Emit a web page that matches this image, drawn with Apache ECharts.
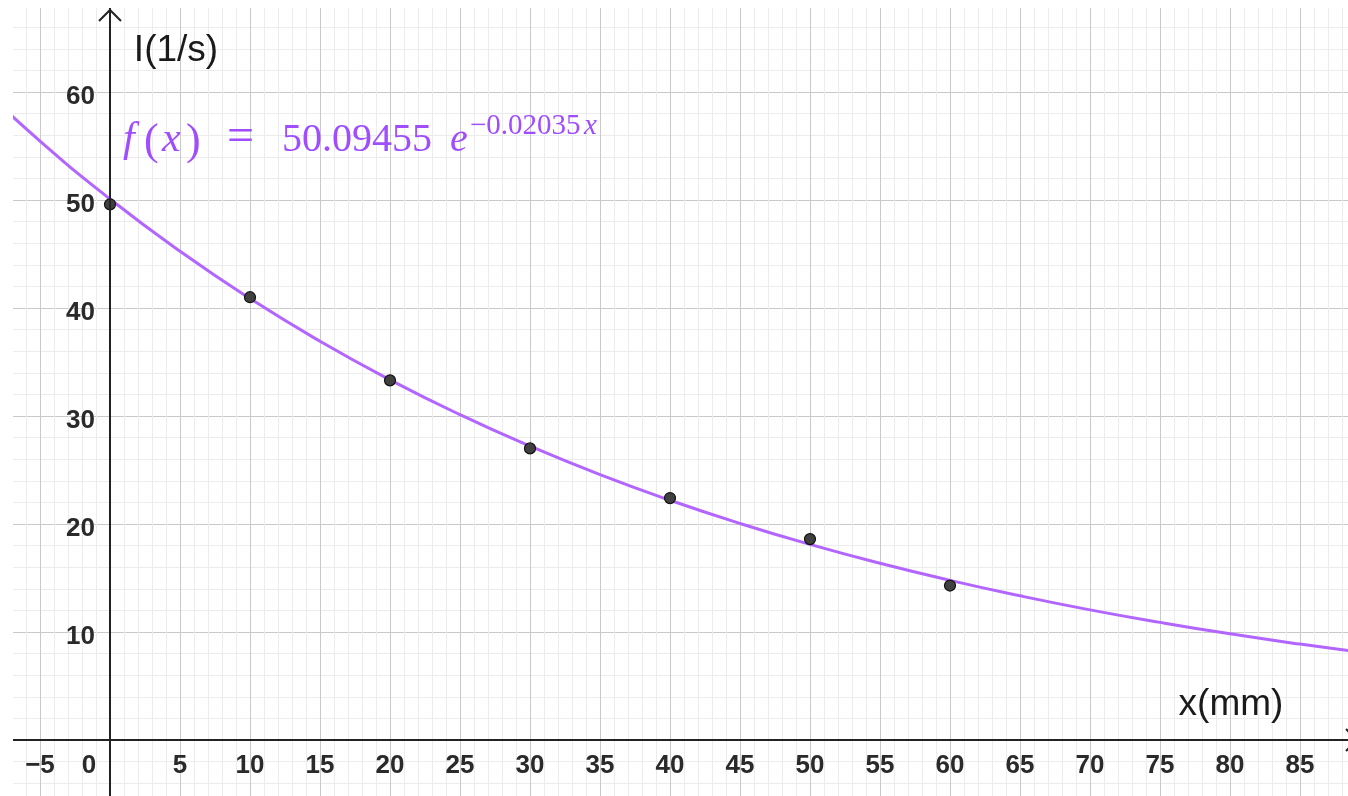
<!DOCTYPE html>
<html><head><meta charset="utf-8">
<script src="https://cdn.jsdelivr.net/npm/echarts@6/dist/echarts.min.js"></script>
<style>html,body{margin:0;padding:0;background:#fff;overflow:hidden}#c{width:1348px;height:796px}</style>
</head><body><div id="c"></div>
<script>
// measured points
const distance = [0, 10, 20, 30, 40, 50, 60];
const intensity = [49.6, 41.0, 33.3, 27.0, 22.4, 18.6, 14.3];
// fitted curve
const fitX = [-10, -5, 0, 5, 10, 15, 20, 25, 30, 35, 40, 45, 50, 55, 60, 65, 70, 75, 80, 85, 90];
const fitY = [61.4, 55.46, 50.09, 45.25, 40.87, 36.92, 33.35, 30.12, 27.21, 24.57, 22.20, 20.05, 18.11, 16.36, 14.78, 13.35, 12.05, 10.89, 9.83, 8.88, 8.02];
// axes
const xRange = [-10, 90], xStep = 5;
const yRange = [-10, 70], yStep = 10;
const xAxisTitle = 'x(mm)';
const yAxisTitle = 'I(1/s)';
const formulaCoef = '50.09455';
const formulaExp = '−0.02035';

const PURPLE = '#b266ff';
const TEXT_PURPLE = '#a04cff';
const GRID = {left: -30, top: -16, width: 1400, height: 864};
const pxX = GRID.width / (xRange[1] - xRange[0]);
const pxY = GRID.height / (yRange[1] - yRange[0]);
const chart = echarts.init(document.getElementById('c'), null, {renderer: 'canvas'});

const points = distance.map((d, i) => [d, intensity[i]]);
const curve = fitX.map((d, i) => [d, fitY[i]]);
const sans = 'Liberation Sans, Arial, sans-serif';
const serif = 'Liberation Serif, Times New Roman, serif';
const LBL = {fontSize: 26, fontWeight: 'bold', color: '#2a2a2a', fontFamily: sans};

chart.setOption({
  animation: false,
  backgroundColor: '#fff',
  grid: Object.assign({containLabel: false, outerBoundsMode: 'none'}, GRID),
  xAxis: {
    type: 'value', min: xRange[0], max: xRange[1], interval: xStep,
    position: 'bottom',
    offset: -(0 - yRange[0]) * pxY,
    axisLine: {onZero: false, lineStyle: {color: '#222', width: 2}},
    axisTick: {show: false},
    axisLabel: Object.assign({
      margin: 13,
      showMinLabel: false, showMaxLabel: false,
      formatter: v => v === 0 ? '{z|0}' : (v < 0 ? '−' + Math.abs(v) : String(v)),
      rich: {z: Object.assign({padding: [0, 42, 0, 0]}, LBL)}
    }, LBL),
    splitLine: {show: true, lineStyle: {color: '#c9c9c9', width: 1}},
    minorTick: {show: false, splitNumber: 5},
    minorSplitLine: {show: true, lineStyle: {color: '#ececec', width: 1}}
  },
  yAxis: {
    type: 'value', min: yRange[0], max: yRange[1], interval: yStep,
    position: 'left',
    offset: -(0 - xRange[0]) * pxX,
    axisLine: {onZero: false, lineStyle: {color: '#222', width: 2}},
    axisTick: {show: false},
    axisLabel: Object.assign({
      margin: 15,
      showMinLabel: false, showMaxLabel: false,
      formatter: v => v <= 0 ? '' : '{a|' + v + '}',
      rich: {a: Object.assign({padding: [10, 0, 0, 0]}, LBL)}
    }, LBL),
    splitLine: {show: true, lineStyle: {color: '#c9c9c9', width: 1}},
    minorTick: {show: false, splitNumber: 5},
    minorSplitLine: {show: true, lineStyle: {color: '#ececec', width: 1}}
  },
  series: [
    {
      type: 'line', data: curve, smooth: true, showSymbol: false, symbol: 'none',
      lineStyle: {color: PURPLE, width: 3}, z: 3, clip: true
    },
    {
      type: 'scatter', data: points, symbol: 'circle', symbolSize: 11,
      itemStyle: {color: '#404040', borderColor: '#111', borderWidth: 1.2, opacity: 1}, z: 4
    }
  ]
});

const o = chart.convertToPixel({gridIndex: 0}, [0, 0]);
const ox = o[0], oy = o[1];
const t = (x, y, text, font) => ({type: 'text', x: x, y: y, z: 102,
  style: {text: text, font: font, fill: TEXT_PURPLE, verticalAlign: 'middle'}});

chart.setOption({
  graphic: [
    {type: 'rect', shape: {x: 0, y: 0, width: 13, height: 796}, style: {fill: '#fff'}, z: 100, silent: true},
    {type: 'rect', shape: {x: 0, y: 0, width: 1348, height: 8}, style: {fill: '#fff'}, z: 100, silent: true},
    {type: 'polyline', shape: {points: [[ox - 11, 21], [ox, 10], [ox + 11, 21]]}, style: {stroke: '#222', lineWidth: 2, fill: null}, z: 101},
    {type: 'line', shape: {x1: ox, y1: 10, x2: ox, y2: 796}, style: {stroke: '#222', lineWidth: 2}, z: 101},
    {type: 'polyline', shape: {points: [[1346, oy - 11], [1357, oy], [1346, oy + 11]]}, style: {stroke: '#222', lineWidth: 2, fill: null}, z: 101},
    {type: 'line', shape: {x1: 13, y1: oy, x2: 1348, y2: oy}, style: {stroke: '#222', lineWidth: 2}, z: 101},
    {type: 'text', x: 176, y: 51, z: 102, style: {text: yAxisTitle, font: '37px ' + sans, fill: '#1a1a1a', align: 'center', verticalAlign: 'middle'}},
    {type: 'text', x: 1231, y: 705, z: 102, style: {text: xAxisTitle, font: '37px ' + sans, fill: '#1a1a1a', align: 'center', verticalAlign: 'middle'}},
    t(123, 140, 'f', 'italic 42px ' + serif),
    t(144, 142, '(', '44px ' + serif),
    t(162, 140, 'x', 'italic 42px ' + serif),
    t(186, 142, ')', '44px ' + serif),
    t(227, 138, '=', '48px ' + serif),
    t(282, 140, formulaCoef, '40px ' + serif),
    t(450, 140, 'e', 'italic 40px ' + serif),
    t(470, 126, formulaExp, '29px ' + serif),
    t(584, 126, 'x', 'italic 29px ' + serif)
  ]
});
</script>
</body></html>
